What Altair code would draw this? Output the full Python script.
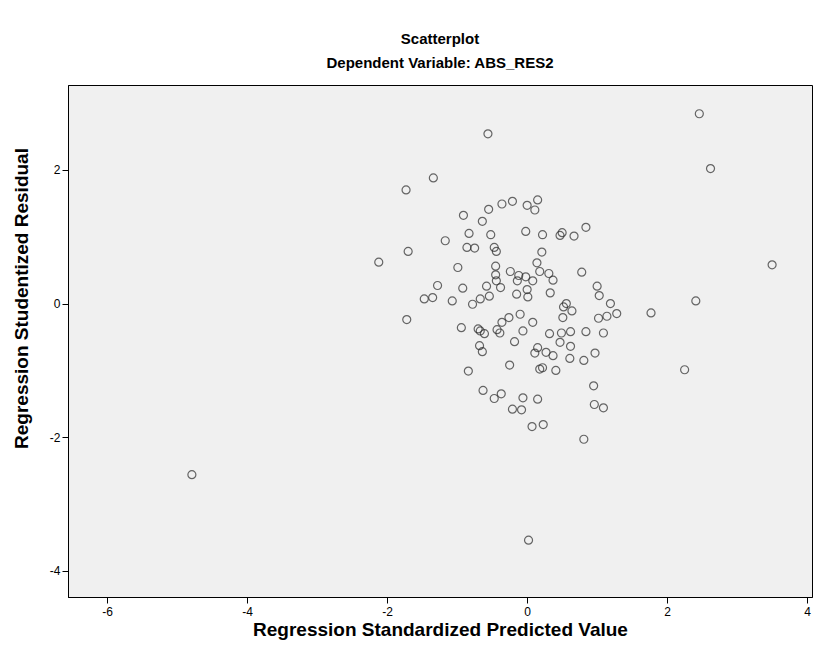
import altair as alt
import pandas as pd

# Regression Standardized Predicted Value
pred = [
    -4.79, -2.12, -1.73, -1.70, -1.72, -1.47, -1.35, -1.34, -1.28, -1.17,
    -1.07, -0.99, -0.94, -0.92, -0.91, -0.86, -0.83, -0.84, -0.78, -0.75,
    -0.70, -0.67, -0.61, -0.68, -0.64, -0.67, -0.64, -0.63, -0.58, -0.56,
    -0.55, -0.54, -0.52, -0.47, -0.47, -0.44, -0.45, -0.45, -0.44, -0.43,
    -0.39, -0.38, -0.37, -0.36, -0.36, -0.26, -0.25, -0.24, -0.21, -0.21,
    -0.18, -0.15, -0.14, -0.12, -0.10, -0.08, -0.06, -0.06, -0.02, -0.02,
    0.00, 0.00, 0.01, 0.02, 0.07, 0.08, 0.08, 0.11, 0.11, 0.14,
    0.15, 0.15, 0.15, 0.18, 0.18, 0.21, 0.22, 0.22, 0.23, 0.27,
    0.31, 0.32, 0.33, 0.37, 0.37, 0.41, 0.47, 0.47, 0.49, 0.50,
    0.51, 0.52, 0.56, 0.61, 0.62, 0.62, 0.64, 0.67, 0.78, 0.81,
    0.81, 0.84, 0.84, 0.95, 0.96, 0.97, 1.00, 1.02, 1.03, 1.09,
    1.09, 1.14, 1.19, 1.28, 1.77, 2.25, 2.41, 2.46, 2.62, 3.50,
]

# Regression Studentized Residual
resid = [
    -2.56, 0.62, 1.70, 0.78, -0.24, 0.07, 0.09, 1.88, 0.27, 0.94,
    0.04, 0.54, -0.36, 0.23, 1.32, 0.84, 1.05, -1.01, -0.01, 0.83,
    -0.38, -0.41, -0.45, -0.63, -0.72, 0.07, 1.23, -1.30, 0.26, 2.54,
    1.41, 0.11, 1.03, -1.42, 0.84, 0.78, 0.56, 0.43, 0.34, -0.39,
    -0.44, 0.24, -1.35, 1.49, -0.28, -0.21, -0.92, 0.48, 1.53, -1.58,
    -0.57, 0.14, 0.34, 0.42, -0.16, -1.59, -0.41, -1.41, 1.08, 0.40,
    0.21, 1.47, 0.10, -3.54, -1.84, 0.34, -0.28, 1.40, -0.74, 0.61,
    1.55, -0.66, -1.43, -0.98, 0.48, 0.77, 1.03, -0.96, -1.81, -0.73,
    0.45, -0.45, 0.16, 0.35, -0.78, -1.00, 1.02, -0.58, -0.44, 1.06,
    -0.21, -0.05, 0.00, -0.82, -0.64, -0.42, -0.11, 1.01, 0.47, -0.85,
    -2.03, 1.14, -0.42, -1.23, -1.51, -0.74, 0.26, -0.22, 0.12, -0.44,
    -1.56, -0.19, 0.00, -0.15, -0.14, -0.99, 0.04, 2.84, 2.02, 0.58,
]

x_ticks = [-6, -4, -2, 0, 2, 4]
y_ticks = [-4, -2, 0, 2]

df = pd.DataFrame({"pred": pred, "resid": resid})

FONT = "Liberation Sans"

chart = (
    alt.Chart(df)
    .mark_point(shape="circle", filled=False, size=64, stroke="#2a2a2a", strokeWidth=1.2)
    .encode(
        x=alt.X(
            "pred:Q",
            scale=alt.Scale(domain=[-6.56, 4.07], nice=False, zero=False),
            axis=alt.Axis(
                title="Regression Standardized Predicted Value",
                values=x_ticks,
                labelExpr="'' + datum.value",
                grid=False,
                tickSize=6,
                tickColor="black",
                domainColor="black",
                labelFont=FONT,
                labelFontSize=12,
                labelColor="black",
                labelPadding=3,
                titleFont=FONT,
                titleFontSize=19,
                titleFontWeight="bold",
                titleColor="black",
                titlePadding=3,
            ),
        ),
        y=alt.Y(
            "resid:Q",
            scale=alt.Scale(domain=[-4.39, 3.27], nice=False, zero=False),
            axis=alt.Axis(
                title="Regression Studentized Residual",
                values=y_ticks,
                labelExpr="'' + datum.value",
                grid=False,
                tickSize=6,
                tickColor="black",
                domainColor="black",
                labelFont=FONT,
                labelFontSize=12,
                labelColor="black",
                labelPadding=2,
                titleFont=FONT,
                titleFontSize=19,
                titleFontWeight="bold",
                titleColor="black",
                titlePadding=18,
                titleY=213,
            ),
        ),
    )
    .properties(
        width=744,
        height=512,
        background="white",
        padding={"left": 60, "top": 77, "right": 15, "bottom": 55},
        autosize=alt.AutoSizeParams(type="none"),
        title=alt.TitleParams(
            text="Scatterplot",
            subtitle="Dependent Variable: ABS_RES2",
            font=FONT,
            fontSize=15,
            fontWeight="bold",
            color="black",
            subtitleFont=FONT,
            subtitleFontSize=15,
            subtitleFontWeight="bold",
            subtitleColor="black",
            subtitlePadding=9,
            anchor="middle",
            offset=14,
        ),
    )
    .configure_view(fill="#f0f0f0", stroke="#000000", strokeWidth=1)
)

chart.save("out.html", embed_options={"renderer": "svg", "actions": False})
